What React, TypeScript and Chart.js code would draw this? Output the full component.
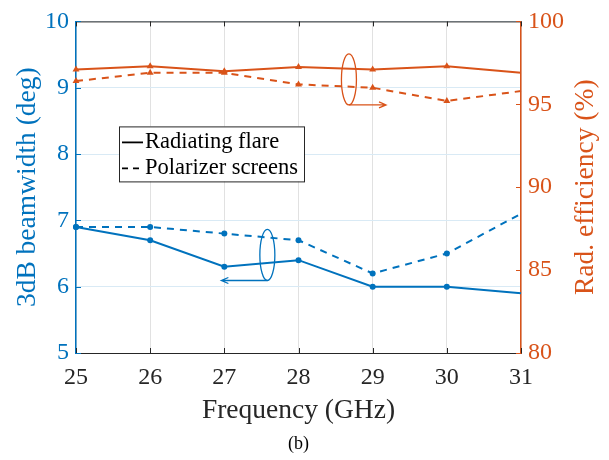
import React, { useEffect, useRef } from "react";
import { Chart, registerables } from "chart.js";
Chart.register(...registerables);

const frequencies = [25, 26, 27, 28, 29, 30, 31];
const beamFlare = [6.9, 6.7, 6.3, 6.4, 6.0, 6.0, 5.9];
const beamPolarizer = [6.9, 6.9, 6.8, 6.7, 6.2, 6.5, 7.1];
const effFlare = [97.1, 97.3, 97.0, 97.25, 97.1, 97.3, 96.9];
const effPolarizer = [96.4, 96.9, 96.9, 96.2, 96.0, 95.2, 95.8];
const legendLabels = ["Radiating flare", "Polarizer screens"];
const xTitle = "Frequency (GHz)";
const yLeftTitle = "3dB beamwidth (deg)";
const yRightTitle = "Rad. efficiency (%)";
const caption = "(b)";

const BLUE = "#0072BD";
const ORANGE = "#D95319";
const DARK = "#262626";
const FONT = "'Liberation Serif', 'Times New Roman', serif";

const pts = (ys: number[]) => frequencies.map((x, i) => ({ x, y: ys[i] }));
const radii = (r: number) => frequencies.map((_, i) => (i === frequencies.length - 1 ? 0 : r));

const annotPlugin = {
  id: "annot",
  afterDatasetsDraw(chart: any) {
    const { ctx, chartArea: ca, scales } = chart;
    const xs = scales.x, yl = scales.y, yr = scales.y1;
    ctx.save();
    // top border
    ctx.strokeStyle = DARK;
    ctx.lineWidth = 1;
    ctx.beginPath();
    ctx.moveTo(ca.left, ca.top + 0.5);
    ctx.lineTo(ca.right, ca.top + 0.5);
    ctx.stroke();
    // inward ticks
    const tl = 5;
    ctx.beginPath();
    for (const f of frequencies) {
      const px = Math.round(xs.getPixelForValue(f)) + 0.5;
      ctx.moveTo(px, ca.bottom);
      ctx.lineTo(px, ca.bottom - tl);
      ctx.moveTo(px, ca.top);
      ctx.lineTo(px, ca.top + tl);
    }
    ctx.stroke();
    ctx.strokeStyle = BLUE;
    ctx.beginPath();
    for (let v = 5; v <= 10; v++) {
      const py = Math.round(yl.getPixelForValue(v)) + 0.5;
      ctx.moveTo(ca.left, py);
      ctx.lineTo(ca.left + tl, py);
    }
    ctx.stroke();
    ctx.strokeStyle = ORANGE;
    ctx.beginPath();
    for (let v = 80; v <= 100; v += 5) {
      const py = Math.round(yr.getPixelForValue(v)) + 0.5;
      ctx.moveTo(ca.right, py);
      ctx.lineTo(ca.right - tl, py);
    }
    ctx.stroke();

    // ellipses with arrows
    const drawGroup = (color: string, ys: any, xc: number, yTop: number, yBot: number, xEnd: number) => {
      const cx = xs.getPixelForValue(xc);
      const t = ys.getPixelForValue(yTop);
      const b = ys.getPixelForValue(yBot);
      const ex = xs.getPixelForValue(xEnd);
      ctx.strokeStyle = color;
      ctx.lineWidth = 1.3;
      ctx.beginPath();
      ctx.ellipse(cx, (t + b) / 2, 7.5, (b - t) / 2, 0, 0, Math.PI * 2);
      ctx.stroke();
      ctx.beginPath();
      ctx.moveTo(cx, b);
      ctx.lineTo(ex, b);
      const dir = ex > cx ? 1 : -1;
      ctx.moveTo(ex - dir * 7, b - 3);
      ctx.lineTo(ex, b);
      ctx.lineTo(ex - dir * 7, b + 3);
      ctx.stroke();
    };
    drawGroup(ORANGE, yr, 28.68, 98.04, 94.96, 29.18);
    drawGroup(BLUE, yl, 27.58, 6.865, 6.093, 26.96);

    // legend
    const lx = ca.left + 43, ly = ca.top + 105, lw = 185, lh = 55;
    ctx.fillStyle = "#ffffff";
    ctx.fillRect(lx, ly, lw, lh);
    ctx.strokeStyle = DARK;
    ctx.lineWidth = 1;
    ctx.strokeRect(lx + 0.5, ly + 0.5, lw, lh);
    ctx.lineWidth = 1.8;
    ctx.strokeStyle = "#000";
    ctx.setLineDash([]);
    ctx.beginPath();
    ctx.moveTo(lx + 3, ly + 16);
    ctx.lineTo(lx + 24, ly + 16);
    ctx.stroke();
    ctx.setLineDash([6, 5]);
    ctx.beginPath();
    ctx.moveTo(lx + 3, ly + 42);
    ctx.lineTo(lx + 25, ly + 42);
    ctx.stroke();
    ctx.setLineDash([]);
    ctx.fillStyle = "#000";
    ctx.font = `22.5px ${FONT}`;
    ctx.textBaseline = "middle";
    ctx.textAlign = "left";
    ctx.fillText(legendLabels[0], lx + 26, ly + 16);
    ctx.fillText(legendLabels[1], lx + 26, ly + 42);

    // right axis title (reads bottom to top)
    ctx.save();
    ctx.translate(586, (ca.top + ca.bottom) / 2);
    ctx.rotate(-Math.PI / 2);
    ctx.fillStyle = ORANGE;
    ctx.font = `27.5px ${FONT}`;
    ctx.textAlign = "center";
    ctx.textBaseline = "middle";
    ctx.fillText(yRightTitle, 0, 0);
    ctx.restore();

    // caption
    ctx.fillStyle = "#000";
    ctx.font = `18px ${FONT}`;
    ctx.textAlign = "center";
    ctx.textBaseline = "middle";
    ctx.fillText(caption, (ca.left + ca.right) / 2, 444);
    ctx.restore();
  },
};

export default function App() {
  const ref = useRef<HTMLCanvasElement>(null);
  useEffect(() => {
    document.body.style.margin = "0";
    const chart = new Chart(ref.current as HTMLCanvasElement, {
      type: "line",
      data: {
        datasets: [
          {
            label: legendLabels[0],
            data: pts(beamFlare),
            yAxisID: "y",
            borderColor: BLUE,
            backgroundColor: BLUE,
            borderWidth: 2,
            pointStyle: "circle",
            pointRadius: radii(3),
            pointBackgroundColor: BLUE,
            pointBorderWidth: 0,
            clip: false as any,
          },
          {
            label: legendLabels[1],
            data: pts(beamPolarizer),
            yAxisID: "y",
            borderColor: BLUE,
            backgroundColor: BLUE,
            borderWidth: 2,
            borderDash: [7, 6],
            pointStyle: "circle",
            pointRadius: radii(3),
            pointBackgroundColor: BLUE,
            pointBorderWidth: 0,
            clip: false as any,
          },
          {
            label: legendLabels[0],
            data: pts(effFlare),
            yAxisID: "y1",
            borderColor: ORANGE,
            backgroundColor: ORANGE,
            borderWidth: 2,
            pointStyle: "triangle",
            pointRadius: radii(4),
            pointBackgroundColor: ORANGE,
            pointBorderWidth: 0,
            clip: false as any,
          },
          {
            label: legendLabels[1],
            data: pts(effPolarizer),
            yAxisID: "y1",
            borderColor: ORANGE,
            backgroundColor: ORANGE,
            borderWidth: 2,
            borderDash: [7, 6],
            pointStyle: "triangle",
            pointRadius: radii(4),
            pointBackgroundColor: ORANGE,
            pointBorderWidth: 0,
            clip: false as any,
          },
        ],
      },
      options: {
        animation: false,
        responsive: false,
        maintainAspectRatio: false,
        layout: { padding: { top: 16, left: 0, right: 0, bottom: 0 } },
        plugins: { legend: { display: false }, tooltip: { enabled: false } },
        scales: {
          x: {
            type: "linear",
            position: "bottom",
            min: 25,
            max: 31,
            ticks: { stepSize: 1, color: DARK, font: { family: FONT, size: 24 }, padding: 10, maxRotation: 0 },
            grid: { color: "#e1e1e1", drawTicks: false },
            border: { color: DARK, width: 1 },
            title: { display: true, text: xTitle, color: DARK, font: { family: FONT, size: 27.5 }, padding: { top: 0, bottom: 33 } },
            afterFit: (s: any) => { s.height = 107; },
          },
          y: {
            type: "linear",
            position: "left",
            min: 5,
            max: 10,
            ticks: { stepSize: 1, color: BLUE, font: { family: FONT, size: 24 }, padding: 7 },
            grid: { color: "#d9eaf5", drawTicks: false },
            border: { color: BLUE, width: 1.5 },
            title: { display: true, text: yLeftTitle, color: BLUE, font: { family: FONT, size: 27.5 }, padding: { top: 11, bottom: 0 } },
            afterFit: (s: any) => { s.width = 76; },
          },
          y1: {
            type: "linear",
            position: "right",
            min: 80,
            max: 100,
            ticks: { stepSize: 5, color: ORANGE, font: { family: FONT, size: 24 }, padding: 7 },
            grid: { display: false, drawTicks: false },
            border: { color: ORANGE, width: 1.5 },
            title: { display: false, text: yRightTitle },
            afterFit: (s: any) => { s.width = 88; },
          },
        },
      } as any,
      plugins: [annotPlugin],
    });
    return () => chart.destroy();
  }, []);
  return (
    <div style={{ width: 609, height: 460 }}>
      <canvas ref={ref} width={609} height={460} style={{ display: "block" }} />
    </div>
  );
}
